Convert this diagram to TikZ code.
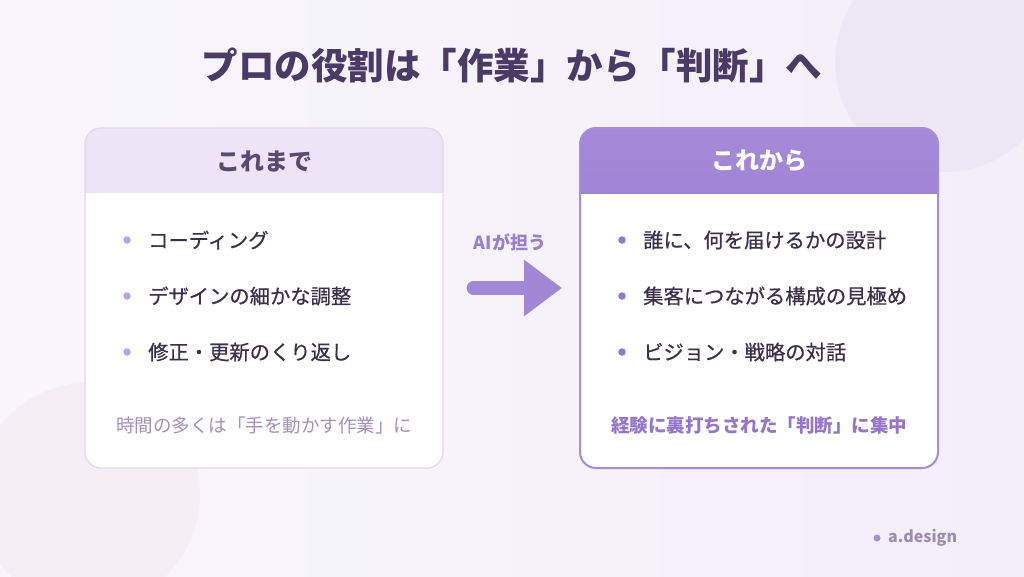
\documentclass[tikz,border=0pt]{standalone}
\usepackage{fontspec}
\setmainfont{Noto Sans CJK JP}
\newfontfamily\itemfont{Noto Sans CJK JP}[FakeBold=0.6]
\usetikzlibrary{positioning,calc,arrows.meta}

\definecolor{bgA}{HTML}{F8F6FC}
\definecolor{bgB}{HTML}{F3EFF9}
\definecolor{blobR}{HTML}{EEE8F6}
\definecolor{blobL}{HTML}{F6EEF5}
\definecolor{titleInk}{HTML}{4A3A66}
\definecolor{bodyInk}{HTML}{3A304C}
\definecolor{oldHead}{HTML}{EDE5F7}
\definecolor{oldEdge}{HTML}{E2D8EF}
\definecolor{oldInk}{HTML}{5A4A70}
\definecolor{oldDot}{HTML}{BBA2E2}
\definecolor{oldNote}{HTML}{A390BC}
\definecolor{newTop}{HTML}{A58AD9}
\definecolor{newBot}{HTML}{8D6EC6}
\definecolor{newEdge}{HTML}{A88BD9}
\definecolor{newDot}{HTML}{9575CD}
\definecolor{arrowInk}{HTML}{A287D7}
\definecolor{tagInk}{HTML}{9A7ECF}
\definecolor{signInk}{HTML}{9C8DB2}

\tikzset{
  card/.style={draw, line width=1.2pt, fill=white, rounded corners=16pt,
    minimum width=358pt, minimum height=340pt, inner sep=0pt},
  headtext/.style={font=\fontsize{24}{28}\selectfont\bfseries},
  item/.style={anchor=west, text=bodyInk, font=\itemfont\fontsize{20.3}{24}\selectfont, inner sep=0pt},
  bullet/.style={circle, inner sep=0pt, minimum size=7.5pt},
  note/.style={font=\fontsize{18.5}{22}\selectfont, inner sep=0pt},
}

\begin{document}
\begin{tikzpicture}[x=1pt, y=-1pt]
  \useasboundingbox (0,0) rectangle (1024,576);
  % background and soft blobs
  \shade[left color=bgA, right color=bgB] (0,0) rectangle (1024,576);
  \begin{scope}
    \clip (0,0) rectangle (1024,576);
    \fill[blobR] (945,62) circle (110);
    \fill[blobL] (88,495) circle (112);
  \end{scope}

  \node[font=\fontsize{36.5}{42}\selectfont\bfseries, text=titleInk] (title) at (512,66) {プロの役割は「作業」から「判断」へ};

  % left card
  \node[card, draw=oldEdge, path picture={
      \fill[oldHead, sharp corners] (path picture bounding box.north west) rectangle ([yshift=-65pt]path picture bounding box.north east);
    }] (old) at (264,298) {};
  \node[headtext, text=oldInk] (oldhead) at (264,161) {これまで};
  \node[bullet, fill=oldDot] (od1) at (127,240) {};
  \node[item] (oi1) at (148,240) {コーディング};
  \node[bullet, fill=oldDot] (od2) at (127,296) {};
  \node[item] (oi2) at (148,296) {デザインの細かな調整};
  \node[bullet, fill=oldDot] (od3) at (127,352) {};
  \node[item] (oi3) at (148,352) {修正・更新のくり返し};
  \node[note, text=oldNote] (oldnote) at (264,425) {時間の多くは「手を動かす作業」に};

  % right card
  \node[card, draw=newEdge, line width=2pt, path picture={
      \shade[top color=newTop, bottom color=newBot, sharp corners] (path picture bounding box.north west) rectangle ([yshift=-65pt]path picture bounding box.north east);
    }] (new) at (759,298) {};
  \node[headtext, text=white] (newhead) at (759,161) {これから};
  \node[bullet, fill=newDot] (nd1) at (622,240) {};
  \node[item] (ni1) at (643,240) {誰に、何を届けるかの設計};
  \node[bullet, fill=newDot] (nd2) at (622,296) {};
  \node[item] (ni2) at (643,296) {集客につながる構成の見極め};
  \node[bullet, fill=newDot] (nd3) at (622,352) {};
  \node[item] (ni3) at (643,352) {ビジョン・戦略の対話};
  \node[note, text=newDot, font=\fontsize{18.5}{22}\selectfont\bfseries] (newnote) at (759,425) {経験に裏打ちされた「判断」に集中};

  % shift arrow
  \coordinate (shiftL) at ([xshift=30pt]old.east |- 0,288);
  \coordinate (shiftR) at ([xshift=-17pt]new.west |- 0,288);
  \draw[arrowInk, line width=14pt, line cap=round, -{Triangle[length=38pt, width=54pt]}] (shiftL) -- (shiftR);
  \node[font=\fontsize{18}{21}\selectfont\bfseries, text=tagInk] (tag) at (510,242) {AIが担う};

  % signature
  \node[circle, fill=newDot!80, inner sep=0pt, minimum size=7pt] (signdot) at (877,538) {};
  \node[anchor=west, text=signInk, font=\fontsize{16}{19}\selectfont\bfseries, inner sep=0pt] (sign) at (888,538) {a.design};
\end{tikzpicture}
\end{document}
